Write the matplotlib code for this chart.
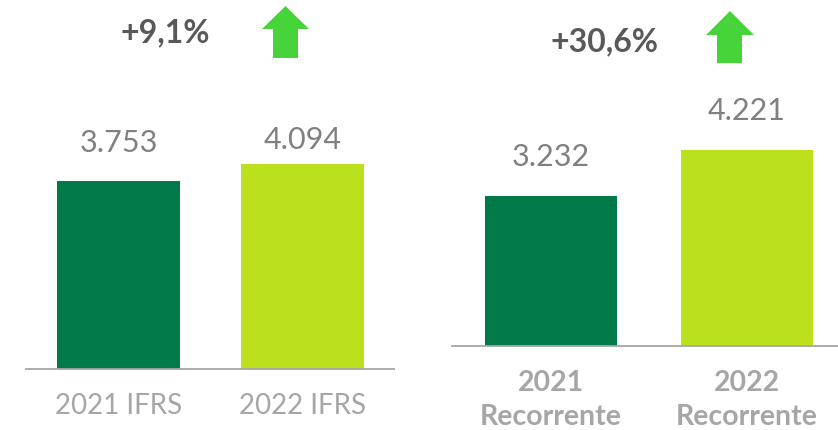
import matplotlib
matplotlib.use("Agg")
import matplotlib.pyplot as plt
from matplotlib.patches import Polygon

plt.rcParams['font.family'] = ['Lato', 'DejaVu Sans']

# Data
left_categories = ["2021 IFRS", "2022 IFRS"]
left_values = [3753, 4094]
left_labels = ["3.753", "4.094"]
right_categories = ["2021\nRecorrente", "2022\nRecorrente"]
right_values = [3232, 4221]
right_labels = ["3.232", "4.221"]
left_change = "+9,1%"
right_change = "+30,6%"

DARK = "#007A48"
LIGHT = "#BBE01E"
ARROW = "#47D43A"
W, H = 838, 430

fig = plt.figure(figsize=(W / 100, H / 100), dpi=100)

def px_axes(x0, x1, ybase):
    return fig.add_axes([x0 / W, (H - ybase) / H, (x1 - x0) / W, ybase / H])

axL = px_axes(26, 394, 369)
axR = px_axes(452, 838, 346)

def style(ax):
    for s in ["top", "right", "left"]:
        ax.spines[s].set_visible(False)
    ax.spines["bottom"].set_color("#a6a6a6")
    ax.spines["bottom"].set_linewidth(1.3)
    ax.set_yticks([])
    ax.tick_params(axis="x", length=0)
    ax.patch.set_alpha(0)

# Left panel
xs = range(len(left_values))
axL.bar(xs, left_values, width=0.668, color=[DARK, LIGHT])
axL.set_xlim(-0.503, 1.497)
axL.set_ylim(0, 7367)
style(axL)
axL.set_xticks(list(xs))
axL.set_xticklabels(left_categories, fontsize=20, color="#a6a6a6", fontweight="normal")
axL.tick_params(axis="x", pad=17)
left_offsets = [38, 24]
for x, v, lab, off in zip(xs, left_values, left_labels, left_offsets):
    axL.annotate(lab, (x, v), xytext=(0, off * 0.72), textcoords="offset points",
                 ha="center", va="center", fontsize=22, color="#808080", fontweight="normal")

# Right panel
xs = range(len(right_values))
axR.bar(xs, right_values, width=0.673, color=[DARK, LIGHT])
axR.set_xlim(-0.505, 1.464)
axR.set_ylim(0, 7454)
style(axR)
axR.set_xticks(list(xs))
axR.set_xticklabels(right_categories, fontsize=20.5, color="#a6a6a6", fontweight="bold",
                    linespacing=1.4)
axR.tick_params(axis="x", pad=17)
for x, v, lab in zip(xs, right_values, right_labels):
    axR.annotate(lab, (x, v), xytext=(0, 39 * 0.72), textcoords="offset points",
                 ha="center", va="center", fontsize=22, color="#808080", fontweight="normal")

# Change annotations
fig.text(165 / W, 1 - 33 / H, left_change, ha="center", va="center", fontsize=23,
         fontweight="bold", color="#595959")
fig.text(605 / W, 1 - 42 / H, right_change, ha="center", va="center", fontsize=23,
         fontweight="bold", color="#595959")

def arrow(xl, xr, sl, sr, tip, shoulder, bottom):
    cx = (xl + xr) / 2
    pts = [(cx, tip), (xr, shoulder), (sr, shoulder), (sr, bottom),
           (sl, bottom), (sl, shoulder), (xl, shoulder)]
    pts = [(x / W, 1 - y / H) for x, y in pts]
    fig.patches.append(Polygon(pts, closed=True, transform=fig.transFigure,
                               facecolor=ARROW, edgecolor="none"))

arrow(262, 309, 273, 298, 6, 29, 58)
arrow(706, 754, 717, 742, 11, 35, 63)

fig.savefig("out.png", dpi=100, facecolor="white")
